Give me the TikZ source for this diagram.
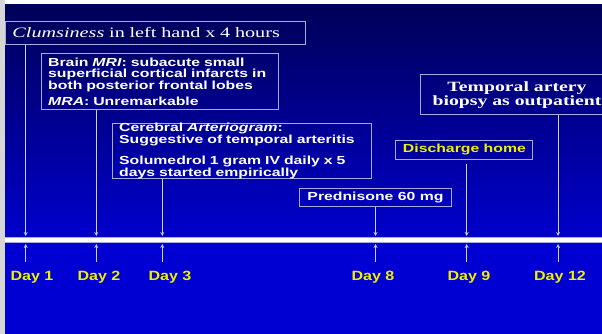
\documentclass[tikz,border=0pt]{standalone}
\usepackage{fontspec}
\newfontfamily\slidesans[FakeStretch=1.35]{Liberation Sans}
\newfontfamily\daysans[FakeStretch=1.2]{Liberation Sans}
\newfontfamily\slideserif[FakeStretch=1.4]{Liberation Serif}
\usepackage{tikz}
\usetikzlibrary{arrows, positioning}
\definecolor{navytop}{RGB}{0,0,88}
\definecolor{bluebot}{RGB}{0,0,210}
\definecolor{edge}{RGB}{170,170,225}
\definecolor{stripgray}{RGB}{214,214,214}
\definecolor{dayyellow}{RGB}{240,240,0}

\begin{document}
\begin{tikzpicture}[x=1pt, y=-1pt]
\tikzstyle{event} = [rectangle, draw=edge, line width=1pt, text=white, inner xsep=7pt, inner ysep=0pt]
\tikzstyle{note} = [event, anchor=north west, align=left, font={\slidesans\bfseries\fontsize{11.7}{11.4}\selectfont}]
\tikzstyle{title} = [event, font={\slideserif\fontsize{14.4}{14}\selectfont}]
\tikzstyle{short} = [event, font={\slidesans\bfseries\fontsize{11.7}{12}\selectfont}]
\tikzstyle{day} = [anchor=base, text=dayyellow, font={\daysans\bfseries\fontsize{13.4}{14}\selectfont}]
\tikzstyle{arrow} = [edge!55!white, line width=0.8pt, ->, >=stealth]

% Slide background
\useasboundingbox (0,0) rectangle (602,334);
\clip (0,0) rectangle (602,334);
\fill[stripgray] (0,0) rectangle (5,334);
\fill[white] (5,0) rectangle (602,5);
\shade[top color=navytop, bottom color=bluebot] (5,5) rectangle (602,250);
\fill[bluebot] (5,250) rectangle (602,334);

% Events
\node (clum) [title, anchor=north west, align=left, text width=286pt, minimum height=23pt] at (5,21) {\textit{Clumsiness} in left hand x 4 hours};
\node (mri) [note, text width=223.3pt, minimum height=56.6pt] at (40.7,52.7) {Brain \textit{MRI}: subacute small\\superficial cortical infarcts in\\both posterior frontal lobes\\[4.6pt]\textit{MRA}: Unremarkable};
\node (angio) [note, text width=245.3pt, minimum height=53.3pt, font={\slidesans\bfseries\fontsize{11.7}{10}\selectfont}] at (111.7,122.7) {Cerebral \textit{Arteriogram}:\\Suggestive of temporal arteritis\\[9pt]Solumedrol 1 gram IV daily x 5\\days started empirically};
\node (temporal) [title, align=center, minimum width=194pt, minimum height=40pt, font={\slideserif\bfseries\fontsize{14.1}{14}\selectfont}] at (517,95) {Temporal artery\\biopsy as outpatient};
\node (home) [short, text=dayyellow, minimum width=136.7pt, minimum height=18.6pt] at (464.4,150) {Discharge home};
\node (pred) [short, minimum width=152.4pt, minimum height=18.4pt] at (375.5,197.5) {Prednisone 60 mg};

% Timeline
\coordinate (tl) at (5,240);
\coordinate (tr) at (602,240);
\draw[edge, line width=6pt] (tl) -- (tr);
\draw[white, line width=3.4pt] (tl) -- (tr);

\coordinate (t1) at (25.7,236);
\coordinate (t2) at (96.3,236);
\coordinate (t3) at (162.3,236);
\coordinate (t8) at (375.5,236);
\coordinate (t9) at (466.7,236);
\coordinate (t12) at (558,236);

\coordinate (b1) at (25.7,262);
\coordinate (b2) at (96.3,262);
\coordinate (b3) at (162.3,262);
\coordinate (b8) at (375.5,262);
\coordinate (b9) at (466.7,262);
\coordinate (b12) at (558,262);

\coordinate (a1) at (25.7,244);
\coordinate (a2) at (96.3,244);
\coordinate (a3) at (162.3,244);
\coordinate (a8) at (375.5,244);
\coordinate (a9) at (466.7,244);
\coordinate (a12) at (558,244);

\coordinate (hgap) at ([yshift=-4pt]home.south);

% Days
\node (d1) [day] at (32,280) {Day 1};
\node (d2) [day] at (99,280) {Day 2};
\node (d3) [day] at (170,280) {Day 3};
\node (d8) [day] at (373,280) {Day 8};
\node (d9) [day] at (469,280) {Day 9};
\node (d12) [day] at (560,280) {Day 12};

% Connections
\draw [arrow] (clum.south -| t1) -- (t1);
\draw [arrow] (mri.south -| t2) -- (t2);
\draw [arrow] (angio.south -| t3) -- (t3);
\draw [arrow] (pred.south -| t8) -- (t8);
\draw [arrow] (hgap -| t9) -- (t9);
\draw [arrow] (temporal.south -| t12) -- (t12);

\draw [arrow] (b1) -- (a1);
\draw [arrow] (b2) -- (a2);
\draw [arrow] (b3) -- (a3);
\draw [arrow] (b8) -- (a8);
\draw [arrow] (b9) -- (a9);
\draw [arrow] (b12) -- (a12);

\end{tikzpicture}
\end{document}
